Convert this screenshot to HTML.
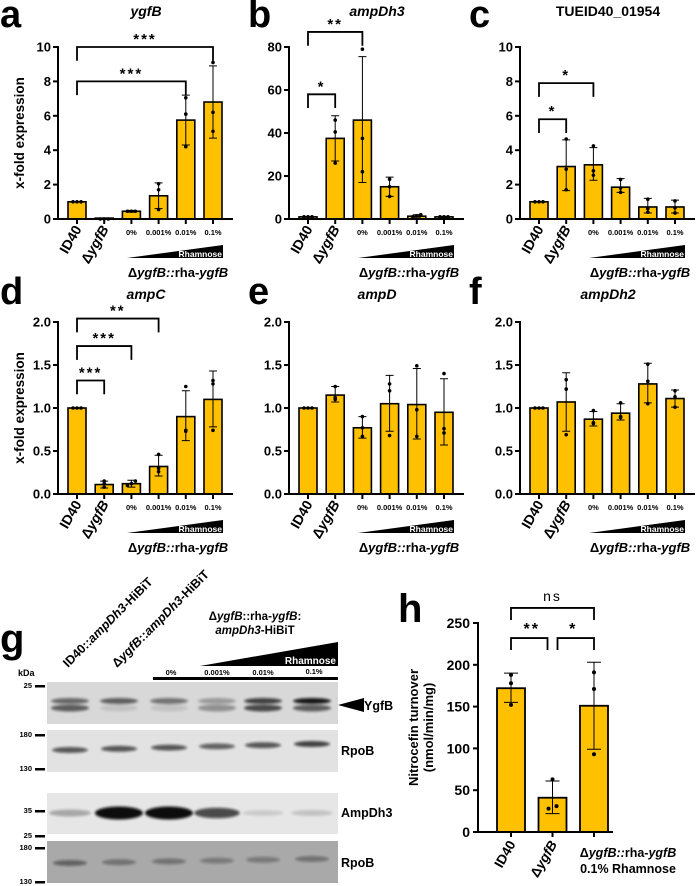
<!DOCTYPE html>
<html><head><meta charset="utf-8"><style>
html,body{margin:0;padding:0;background:#fff;}
svg{display:block;font-family:"Liberation Sans",sans-serif;}
</style></head><body>
<svg id="fig" width="698" height="886" viewBox="0 0 698 886" xmlns="http://www.w3.org/2000/svg">
<defs>
<filter id="blur1" x="-20%" y="-100%" width="140%" height="300%"><feGaussianBlur stdDeviation="1.3"/></filter>
</defs>
<g id="charts"></g>
<g>
<text x="0" y="652" font-size="40" font-weight="bold">g</text>
<text transform="translate(68,668) rotate(-45)" font-size="12.5" font-weight="bold">ID40::<tspan font-style="italic">ampDh3</tspan>-HiBiT</text>
<text transform="translate(117,668) rotate(-45)" font-size="12.5" font-weight="bold">Δ<tspan font-style="italic">ygfB</tspan>::<tspan font-style="italic">ampDh3</tspan>-HiBiT</text>
<text x="255" y="620" font-size="11.5" font-weight="bold" text-anchor="middle">Δ<tspan font-style="italic">ygfB</tspan>::rha-<tspan font-style="italic">ygfB</tspan>:</text>
<text x="255" y="634" font-size="11.5" font-weight="bold" text-anchor="middle"><tspan font-style="italic">ampDh3</tspan>-HiBiT</text>
<polygon points="200,666 338,642 338,666" fill="#000"/>
<text x="336" y="664" font-size="10" font-weight="bold" fill="#fff" text-anchor="end">Rhamnose</text>
<rect x="153" y="677" width="185" height="3" fill="#000"/>
<g font-size="7.5" font-weight="bold" text-anchor="middle">
<text x="171" y="675">0%</text>
<text x="217" y="675">0.001%</text>
<text x="263" y="675">0.01%</text>
<text x="314" y="674">0.1%</text>
</g>
<text x="18" y="676" font-size="9" font-weight="bold">kDa</text>
<g font-size="7.5" font-weight="bold" text-anchor="end">
<text x="32" y="688">25</text>
<text x="32" y="737">180</text>
<text x="32" y="771">130</text>
<text x="32" y="813">35</text>
<text x="32" y="838">25</text>
<text x="32" y="850">180</text>
<text x="32" y="884">130</text>
</g>
<g fill="#000">
<rect x="35" y="685" width="10" height="2.5"/><rect x="35" y="734" width="10" height="2.5"/><rect x="35" y="768" width="10" height="2.5"/>
<rect x="35" y="810" width="10" height="2.5"/><rect x="35" y="835" width="10" height="2.5"/><rect x="35" y="847" width="10" height="2.5"/><rect x="35" y="881" width="10" height="2.5"/>
</g>
<rect x="47" y="682" width="291" height="42" fill="#d8d8d8"/>
<rect x="47" y="730" width="291" height="42" fill="#e2e2e2"/>
<rect x="47" y="793" width="291" height="41" fill="#e6e6e6"/>
<rect x="47" y="841" width="291" height="42" fill="#a9a9a9"/>
<g id="bands"></g>
<polygon points="338,705 364,698 364,712" fill="#000"/>
<g font-size="12.5" font-weight="bold">
<text x="364" y="710">YgfB</text>
<text x="341" y="755">RpoB</text>
<text x="341" y="817">AmpDh3</text>
<text x="341" y="867">RpoB</text>
</g>
</g>
</svg>
<script>
const catsQ = ["ID40","ΔygfB","0%","0.001%","0.01%","0.1%"];
const aMean=[1,0.05,0.45,1.35,5.75,6.8];
const aUp=[1,0.05,0.5,2.1,7.2,8.9];
const aDn=[1,0.05,0.4,0.6,4.3,4.7];
const aPts=[[1,1,1],[0,0,0],[0.45,0.45,0.45],[0.55,1.7,2.05],[4.2,6.1,7.05],[5.1,6.2,9.1]];
const bMean=[1,37.5,46,15,1.3,1];
const bUp=[1,48,75.5,19.5,2,1.2];
const bDn=[1,27,17,10.5,0.8,0.8];
const bPts=[[1,1,1],[26,40.5,46],[22,37.5,79],[10.5,15,18.5],[1,1.5,2],[1,1,1]];
const cMean=[1,3.05,3.15,1.85,0.7,0.7];
const cUp=[1,4.6,4.15,2.35,1.2,1.1];
const cDn=[1,1.65,2.25,1.55,0.35,0.35];
const cPts=[[1,1,1],[1.7,2.9,4.65],[2.55,2.8,4.25],[1.55,1.8,2.3],[0.4,0.6,1.15],[0.35,0.65,1.05]];
const dMean=[1,0.11,0.12,0.32,0.9,1.1];
const dUp=[1,0.15,0.16,0.45,1.2,1.43];
const dDn=[1,0.07,0.08,0.21,0.62,0.78];
const dPts=[[1,1,1],[0.08,0.12,0.15],[0.1,0.12,0.15],[0.26,0.3,0.46],[0.73,0.74,1.25],[0.74,1.28,1.32]];
const eMean=[1,1.15,0.77,1.05,1.04,0.95];
const eUp=[1,1.25,0.9,1.38,1.46,1.34];
const eDn=[1,1.07,0.65,0.73,0.64,0.57];
const ePts=[[1,1,1],[1.1,1.12,1.25],[0.67,0.77,0.9],[0.68,1.2,1.28],[0.67,0.98,1.49],[0.71,0.76,1.4]];
const fMean=[1,1.07,0.87,0.94,1.28,1.11];
const fUp=[1,1.41,0.96,1.05,1.52,1.21];
const fDn=[1,0.73,0.79,0.86,1.06,1.01];
const fPts=[[1,1,1],[0.69,1.22,1.33],[0.82,0.83,0.97],[0.89,0.9,1.06],[1.05,1.31,1.51],[1.01,1.13,1.2]];
const hCats=["ID40","ΔygfB","ΔygfB::rha-ygfB"];
const hMean=[172,41,151];
const hUp=[190,61,203];
const hDn=[155,22,99];
const hPts=[[152,178,188],[28,31,63],[93,171,191]];
const ticks10=[0,2,4,6,8,10];
const ticks80=[0,20,40,60,80];
const ticks2=["0.0","0.5","1.0","1.5","2.0"];
const ticks250=[0,50,100,150,200,250];
const sigA=[[0,4,"***",8.0],[0,5,"***",10.0]];
const sigB=[[0,1,"*",58],[0,2,"**",87]];
const sigC=[[0,1,"*",5.8],[0,2,"*",7.9]];
const sigD=[[0,1,"***",1.32],[0,2,"***",1.72],[0,3,"**",2.04]];
const sigH=[[0,1,"**",232],[1,2,"*",232],[0,2,"ns",268]];
const laneX=[70,119,169,217,263,312];
const ygfbUpper=[0.55,0.6,0.5,0.3,0.75,0.95];
const ygfbLower=[0.6,0.1,0.1,0.35,0.7,0.6];
const rpob1=[0.65,0.65,0.65,0.6,0.65,0.75];
const ampdh3=[0.25,1,1,0.7,0.08,0.12];
const rpob2=[0.45,0.35,0.35,0.3,0.3,0.35];

const NS="http://www.w3.org/2000/svg";
const root=document.getElementById("charts");
function mk(tag,attrs,parent){const e=document.createElementNS(NS,tag);for(const k in attrs)e.setAttribute(k,attrs[k]);(parent||root).appendChild(e);return e;}
const Y="#FFC000";
const letterX=[0,248,469];

function panel(name,col,row,ymax,ticks,means,ups,dns,pts,sigs,title,italic,letter,ytitle){
  const g=mk("g",{});
  
  
  const x0=58+231*col, yTop=47+275*row, yZ=219+275*row;
  const ys=v=>yZ-(v/ymax)*(yZ-yTop);
  const xs=i=>x0+19+i*27.2;
  const bw=18;
  const L=mk("text",{x:letterX[col],y:row==0?27:304,"font-size":38,"font-weight":"bold"},g);L.textContent=letter;
  
  
  const T=mk("text",{x:x0+88,y:row==0?16:299,"font-size":14,"font-weight":"bold","text-anchor":"middle","font-style":italic?"italic":"normal"},g);T.textContent=title;
  
  
  if(ytitle){const t=mk("text",{transform:`translate(${x0-34},${(yTop+yZ)/2}) rotate(-90)`,"font-size":13.5,"font-weight":"bold","text-anchor":"middle"},g);t.textContent="x-fold expression";
    
    }
  means.forEach((m,i)=>{
    const r=mk("rect",{x:xs(i)-bw/2,y:ys(m),width:bw,height:Math.max(0.5,yZ-ys(m)),fill:Y,stroke:"#000","stroke-width":1.6},g);
    
    
    const e=mk("path",{d:`M${xs(i)},${ys(ups[i])}V${ys(dns[i])}M${xs(i)-4},${ys(ups[i])}h8M${xs(i)-4},${ys(dns[i])}h8`,stroke:"#000","stroke-width":1,fill:"none"},g);
    
    
    const offs=[-4,0,4];
    pts[i].forEach((p,j)=>{const c=mk("circle",{cx:xs(i)+(Math.abs(pts[i][0]-pts[i][2])<ymax*0.03?offs[j]:0),cy:ys(p),r:1.8,fill:"#000"},g);
      
      });
  });
  mk("path",{d:`M${x0},${yTop-1}V${yZ}H${x0+175}`,stroke:"#000","stroke-width":2,fill:"none"},g);
  ticks.forEach(t=>{const v=parseFloat(t);mk("line",{x1:x0-5,x2:x0,y1:ys(v),y2:ys(v),stroke:"#000","stroke-width":2},g);
    const tx=mk("text",{x:x0-7,y:ys(v)+4.5,"font-size":13,"font-weight":"bold","text-anchor":"end"},g);tx.textContent=t;
    
    });
  catsQ.forEach((c,i)=>{mk("line",{x1:xs(i),x2:xs(i),y1:yZ,y2:yZ+5,stroke:"#000","stroke-width":2},g);
    if(i<2){const t=mk("text",{transform:`translate(${xs(i)+5},${yZ+10}) rotate(-60)`,"font-size":14,"font-weight":"bold","text-anchor":"end"},g);
      if(i==0)t.textContent="ID40";else{t.innerHTML='Δ<tspan font-style="italic">ygfB</tspan>';}
      
      }
    else{const t=mk("text",{x:xs(i),y:yZ+16,"font-size":7.5,"font-weight":"bold","text-anchor":"middle"},g);t.textContent=c;
      
      }
  });
  const tri=mk("polygon",{points:`${xs(0)+50},${yZ+39} ${xs(0)+146},${yZ+26} ${xs(0)+146},${yZ+39}`,fill:"#000"},g);
  
  
  const rh=mk("text",{x:xs(0)+145,y:yZ+38,"font-size":8.5,"font-weight":"bold",fill:"#fff","text-anchor":"end"},g);rh.textContent="Rhamnose";
  
  
  const sl=mk("text",{x:xs(0)+101,y:yZ+58,"font-size":13,"font-weight":"bold","text-anchor":"middle"},g);
  sl.innerHTML='Δ<tspan font-style="italic">ygfB::</tspan>rha-<tspan font-style="italic">ygfB</tspan>';
  
  
  sigs.forEach(s=>{const y=ys(s[3]);const leg=(yZ-yTop)*0.08;
    const p=mk("path",{d:`M${xs(s[0])},${y+leg}V${y}H${xs(s[1])}V${y+leg}`,stroke:"#000","stroke-width":1.8,fill:"none"},g);
    
    
    const t=mk("text",{x:(xs(s[0])+xs(s[1]))/2,y:y-3,"font-size":15,"font-weight":"bold","text-anchor":"middle","letter-spacing":"2"},g);t.textContent=s[2];
    
    });
}
panel("ygfb",0,0,10,ticks10,aMean,aUp,aDn,aPts,sigA,"ygfB",true,"a",true);
panel("ampdh3",1,0,80,ticks80,bMean,bUp,bDn,bPts,sigB,"ampDh3",true,"b",false);
panel("tueid40",2,0,10,ticks10,cMean,cUp,cDn,cPts,sigC,"TUEID40_01954",false,"c",false);
panel("ampc",0,1,2,ticks2,dMean,dUp,dDn,dPts,sigD,"ampC",true,"d",true);
panel("ampd",1,1,2,ticks2,eMean,eUp,eDn,ePts,[],"ampD",true,"e",false);
panel("ampdh2",2,1,2,ticks2,fMean,fUp,fDn,fPts,[],"ampDh2",true,"f",false);

(function(){
  const g=mk("g",{});
  
  
  const x0=478,yTop=623,yZ=832,ymax=250;
  const ys=v=>yZ-(v/ymax)*(yZ-yTop);
  const xs=i=>511+i*41.5;const bw=28;
  const L=mk("text",{x:398,y:622,"font-size":40,"font-weight":"bold"},g);L.textContent="h";
  
  
  const t1=mk("text",{transform:`translate(418,${(yTop+yZ)/2}) rotate(-90)`,"font-size":13,"font-weight":"bold","text-anchor":"middle"},g);t1.textContent="Nitrocefin turnover";
  
  
  const t2=mk("text",{transform:`translate(433,${(yTop+yZ)/2}) rotate(-90)`,"font-size":13,"font-weight":"bold","text-anchor":"middle"},g);t2.textContent="(nmol/min/mg)";
  
  
  hMean.forEach((m,i)=>{
    const r=mk("rect",{x:xs(i)-bw/2,y:ys(m),width:bw,height:yZ-ys(m),fill:Y,stroke:"#000","stroke-width":1.8},g);
    
    
    const e=mk("path",{d:`M${xs(i)},${ys(hUp[i])}V${ys(hDn[i])}M${xs(i)-7},${ys(hUp[i])}h14M${xs(i)-7},${ys(hDn[i])}h14`,stroke:"#000","stroke-width":1,fill:"none"},g);
    
    
    hPts[i].forEach((p,j)=>{const c=mk("circle",{cx:xs(i)+(i==1&&j<2?(j==0?-4:4):0),cy:ys(p),r:2,fill:"#000"},g);
      
      });
  });
  mk("path",{d:`M${x0},${yTop-1}V${yZ}H${613}`,stroke:"#000","stroke-width":2,fill:"none"},g);
  ticks250.forEach(v=>{mk("line",{x1:x0-5,x2:x0,y1:ys(v),y2:ys(v),stroke:"#000","stroke-width":2},g);
    const tx=mk("text",{x:x0-8,y:ys(v)+5,"font-size":14,"font-weight":"bold","text-anchor":"end"},g);tx.textContent=v;
    
    });
  hCats.forEach((c,i)=>{mk("line",{x1:xs(i),x2:xs(i),y1:yZ,y2:yZ+5,stroke:"#000","stroke-width":2},g);});
  const l0=mk("text",{transform:`translate(${xs(0)+5},${yZ+12}) rotate(-60)`,"font-size":13.5,"font-weight":"bold","text-anchor":"end"},g);l0.textContent="ID40";
  
  
  const l1=mk("text",{transform:`translate(${xs(1)+5},${yZ+12}) rotate(-60)`,"font-size":13.5,"font-weight":"bold","text-anchor":"end"},g);l1.innerHTML='Δ<tspan font-style="italic">ygfB</tspan>';
  
  
  const l2=mk("text",{x:628,y:yZ+25,"font-size":12.5,"font-weight":"bold","text-anchor":"middle"},g);l2.innerHTML='Δ<tspan font-style="italic">ygfB::</tspan>rha-<tspan font-style="italic">ygfB</tspan>';
  
  
  const l3=mk("text",{x:628,y:yZ+41,"font-size":12.5,"font-weight":"bold","text-anchor":"middle"},g);l3.textContent="0.1% Rhamnose";
  
  
  sigH.forEach(s=>{const y=ys(s[3]);
    const p=mk("path",{d:`M${xs(s[0])+(s[0]==1?5:0)},${y+12}V${y}H${xs(s[1])-(s[1]==1?5:0)}V${y+12}`,stroke:"#000","stroke-width":1.8,fill:"none"},g);
    
    
    const t=mk("text",{x:(xs(s[0])+xs(s[1]))/2,y:s[2]=="ns"?y-7:y-4,"font-size":s[2]=="ns"?14:16,"font-weight":s[2]=="ns"?"normal":"bold","text-anchor":"middle","letter-spacing":"2"},g);t.textContent=s[2];
    
    });
})();

(function(){
  const b=document.getElementById("bands");
  function band(x,y,w,h,a,f){const e=document.createElementNS(NS,"ellipse");
    e.setAttribute("cx",x);e.setAttribute("cy",y);e.setAttribute("rx",w);e.setAttribute("ry",h);
    e.setAttribute("fill","#111");e.setAttribute("opacity",a);e.setAttribute("filter",f);
    
    
    b.appendChild(e);}
  laneX.forEach((x,i)=>{
    band(x,701,19,3,ygfbUpper[i],"url(#blur1)");
    band(x,708,19,3.5,ygfbLower[i],"url(#blur1)");
    band(x,750-i*1.2,18,3,rpob1[i],"url(#blur1)");
    band(x,813,20+ampdh3[i]*4,2.5+ampdh3[i]*4,ampdh3[i]*0.95+0.05,"url(#blur1)");
    band(x,863-i*0.8,17,3,rpob2[i],"url(#blur1)");
  });
})();
</script>
</body></html>
